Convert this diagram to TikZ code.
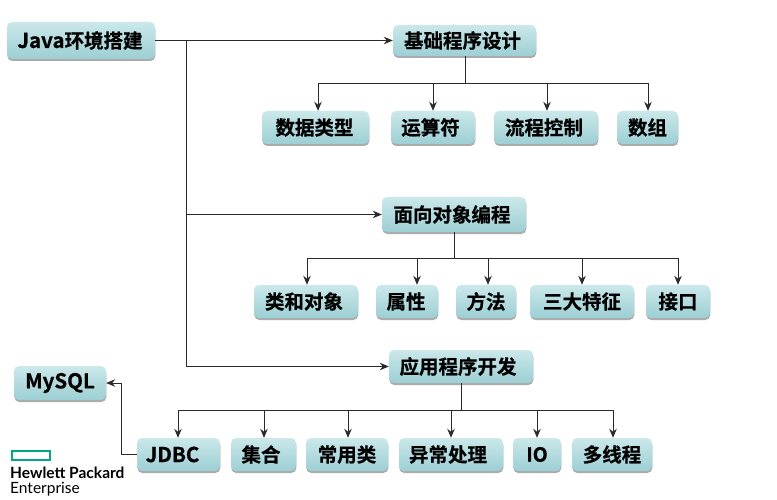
\documentclass[tikz,border=0pt]{standalone}
\usepackage{fontspec}
\setmainfont{Open Sans}
\newfontfamily\cjk{Noto Sans CJK SC}[BoldFont={Noto Sans CJK SC Bold},BoldFeatures={FakeBold=0.6}]
\newfontfamily\hpe{Lato}
\usetikzlibrary{shadows,arrows.meta,calc}
\definecolor{boxtop}{HTML}{CBE8EA}
\definecolor{boxbot}{HTML}{9CCFD4}
\definecolor{linec}{HTML}{2A2A2A}
\definecolor{hpegreen}{HTML}{01A982}
\tikzset{
  tbox/.style={rounded corners=5pt,top color=boxtop,bottom color=boxbot,
    drop shadow={shadow xshift=0.3pt,shadow yshift=-2pt,fill=black!60,opacity=.55},
    inner sep=0pt,text=black,font=\fontsize{19.5}{19.5}\selectfont\bfseries\cjk},
  conn/.style={draw=linec,line width=1pt},
  arr/.style={conn,-{Stealth[length=9pt,width=7.5pt]}}
}
\newcommand{\boxat}[6]{% name x1 y1 x2 y2 text
  \node[tbox,minimum width=#4pt-#2pt,minimum height=#5pt-#3pt] (#1) at ({(#2+#4)/2},{(#3+#5)/2}) {#6};}
\begin{document}
\begin{tikzpicture}[x=1pt,y=-1pt]
\useasboundingbox (0,0) rectangle (777,500);
\fill[white] (0,0) rectangle (777,500);
\boxat{java}{7}{22}{155}{59}{\hspace{-2pt}{\fontsize{20.5}{20}\selectfont Java}环境搭建}
\boxat{basic}{393}{25}{536}{56}{\hspace{-4pt}基础程序设计}
\boxat{dtype}{262}{111}{369}{144}{\hspace{-2pt}数据类型}
\boxat{oper}{391}{111}{475}{144}{\hspace{-5pt}运算符}
\boxat{flow}{494}{111}{598}{144}{\hspace{-4pt}流程控制}
\boxat{arrayb}{617}{111}{678}{144}{数组}
\boxat{oop}{382}{197}{526}{232}{\hspace{-4pt}面向对象编程}
\boxat{cls}{254}{285}{358}{318}{\hspace{-4pt}类和对象}
\boxat{attr}{376}{285}{438}{318}{\hspace{-2pt}属性}
\boxat{meth}{456}{285}{516}{318}{方法}
\boxat{three}{530}{285}{634}{318}{三大特征}
\boxat{iface}{646}{285}{710}{318}{接口}
\boxat{app}{389}{350}{533}{383}{\hspace{-6pt}应用程序开发}
\boxat{mysql}{14}{366}{106}{400}{{\fontsize{20.5}{20}\selectfont MySQL}}
\boxat{jdbc}{137}{438}{220}{471}{\hspace{-12pt}{\fontsize{20.5}{20}\selectfont JDBC}}
\boxat{coll}{231}{438}{296}{471}{\hspace{-5pt}集合}
\boxat{common}{306}{438}{388}{471}{常用类}
\boxat{exc}{399}{438}{503}{471}{\hspace{-6pt}异常处理}
\boxat{io}{513}{438}{561}{471}{IO}
\boxat{thread}{572}{438}{652}{471}{多线程}
% trunk
\coordinate (t0) at (186,41);
\draw[arr] (java.east) -- (java.east -| t0) -- (basic.west);
\draw[conn] (java.east -| t0) -- (t0 |- app.west);
\draw[arr] (t0 |- oop.west) -- (oop.west);
\draw[arr] (t0 |- app.west) -- (app.west);
% level 1
\coordinate (b1) at (465,84);
\draw[conn] (basic.south -| b1) -- (b1);
\foreach \n/\x in {dtype/318,oper/433,flow/547,arrayb/648}
  \draw[arr] (b1) -- (\x,84) -- (\x,84 |- \n.north);
\coordinate (b2) at (454,258);
\draw[conn] (oop.south -| b2) -- (b2);
\foreach \n/\x in {cls/307,attr/417,meth/488,three/582,iface/678}
  \draw[arr] (b2) -- (\x,258) -- (\x,258 |- \n.north);
\coordinate (b3) at (461,410);
\draw[conn] (app.south -| b3) -- (b3);
\foreach \n/\x in {jdbc/178,coll/264,common/348,exc/451,io/537,thread/613}
  \draw[arr] (b3) -- (\x,410) -- (\x,410 |- \n.north);
\coordinate (m) at (121,420);
\draw[arr] (jdbc.west) -- (jdbc.west -| m) -- (m |- mysql.east) -- (mysql.east);
% logo
\node[draw=hpegreen,line width=2pt,minimum width=38pt,minimum height=9pt,inner sep=0pt] (logo) at (30.5,455.5) {};
\node[anchor=west,inner sep=0pt,font=\fontsize{15.5}{15.5}\selectfont\bfseries\hpe] (hp) at (10,472.5) {Hewlett Packard};
\node[anchor=west,inner sep=0pt,font=\fontsize{15.5}{15.5}\selectfont\hpe] (ent) at (10,489.5) {Enterprise};
\end{tikzpicture}
\end{document}
